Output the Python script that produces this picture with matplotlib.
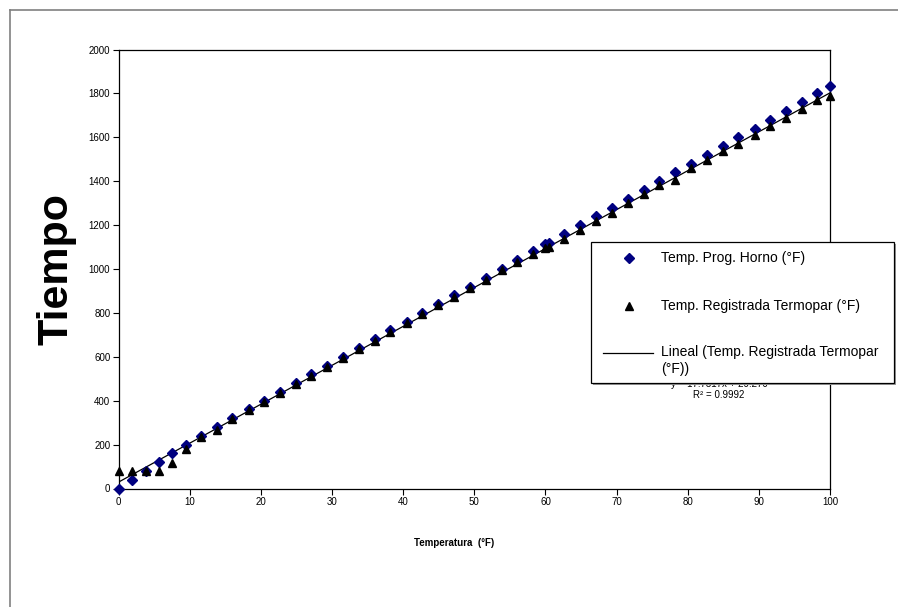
import numpy as np
import matplotlib
matplotlib.use("Agg")
import matplotlib.pyplot as plt
from matplotlib.lines import Line2D
from matplotlib.patches import Rectangle

plt.rcParams["font.family"] = ["Liberation Sans", "DejaVu Sans"]

# Temperature readings (°F) shared by both series
temperatura = [0, 1.93, 3.8, 5.68, 7.55, 9.43, 11.54, 13.8, 16.0, 18.3,
               20.44, 22.7, 24.9, 27.1, 29.3, 31.6, 33.8, 36.0, 38.2, 40.5,
               42.7, 44.9, 47.1, 49.4, 51.6, 53.9, 56.0, 58.3, 60.0, 60.5,
               62.65, 64.9, 67.1, 69.3, 71.6, 73.8, 76.0, 78.25, 80.5, 82.7,
               84.9, 87.1, 89.4, 91.6, 93.8, 96.0, 98.2, 100.0]

# Programmed oven time
tiempo_horno = [0, 40, 80, 120, 160, 200, 240, 280, 320, 360,
                400, 440, 480, 520, 560, 600, 640, 680, 720, 760,
                800, 840, 880, 920, 960, 1000, 1040, 1080, 1112, 1120,
                1160, 1200, 1240, 1280, 1320, 1360, 1400, 1440, 1480, 1520,
                1560, 1600, 1640, 1680, 1720, 1760, 1800, 1832]

# Thermocouple recorded time
tiempo_termopar = [80, 80, 80, 80, 115, 180, 235, 265, 317, 357,
                   395, 434, 474, 512, 554, 594, 634, 672, 714, 754,
                   794, 834, 872, 912, 952, 994, 1034, 1070, 1094, 1099,
                   1135, 1178, 1219, 1254, 1299, 1340, 1383, 1405, 1460, 1497,
                   1536, 1570, 1610, 1650, 1687, 1727, 1770, 1790]

serie_horno = "Temp. Prog. Horno (°F)"
serie_termopar = "Temp. Registrada Termopar (°F)"
serie_lineal = ["Lineal (Temp. Registrada Termopar", "(°F))"]

W, H = 898, 607
fig = plt.figure(figsize=(W / 100, H / 100), dpi=100)


def fx(px):
    return px / W


def fy(py):
    return 1 - py / H


# chart-area frame
fig.add_artist(Line2D([fx(10), fx(10)], [0, fy(10)], color="#808080", lw=1.2))
fig.add_artist(Line2D([fx(10), 1], [fy(10), fy(10)], color="#808080", lw=1.2))

left, right, top, bottom = 118.6, 830.0, 49.5, 488.5
ax = fig.add_axes([fx(left), fy(bottom), (right - left) / W, (bottom - top) / H])

x = np.array(temperatura)
y_h = np.array(tiempo_horno)
y_t = np.array(tiempo_termopar)

diamond = dict(linestyle="none", marker="D", markersize=5.0, color="#000080")
triangle = dict(linestyle="none", marker="^", markersize=5.4, color="black")

ax.plot(x, y_h, zorder=3, clip_on=False, **diamond)
ax.plot(x, y_t, zorder=4, clip_on=False, **triangle)

m, b = np.polyfit(x, y_t, 1)
xx = np.array([0, 100])
ax.plot(xx, m * xx + b, color="black", lw=0.9, zorder=2)

ax.set_xlim(0, 100)
ax.set_ylim(0, 2000)
ax.set_xticks(np.arange(0, 101, 10))
ax.set_yticks(np.arange(0, 2001, 200))
ax.tick_params(direction="out", length=4, width=0.8, labelsize=7, pad=2)
for s in ax.spines.values():
    s.set_linewidth(0.9)

ax.set_xlabel("Temperatura  (°F)", fontsize=7, fontweight="bold")
ax.xaxis.set_label_coords((454 - left) / (right - left), -(543 - bottom) / (bottom - top))
ax.xaxis.label.set_va("center")
ax.set_ylabel("Tiempo", fontsize=31, fontweight="bold", labelpad=9)

# trendline equation, partly behind the legend
ax.text((719 - left) / (right - left), (bottom - 384) / (bottom - top),
        f"y = {m:.4f}x + {b:.3f}", transform=ax.transAxes,
        ha="center", va="center", fontsize=7, zorder=1)
ax.text((719 - left) / (right - left), (bottom - 395) / (bottom - top),
        "R² = 0.9992", transform=ax.transAxes,
        ha="center", va="center", fontsize=7, zorder=1)

# legend box
lx0, ly0, lx1, ly1 = 591, 242, 894, 383
fig.add_artist(Rectangle((fx(lx0 + 2), fy(ly1 + 2)), (lx1 - lx0) / W, (ly1 - ly0) / H,
                         facecolor="#9a9a9a", edgecolor="none", zorder=5))
fig.add_artist(Rectangle((fx(lx0), fy(ly1)), (lx1 - lx0) / W, (ly1 - ly0) / H,
                         facecolor="white", edgecolor="black", lw=0.9, zorder=6))
fig.add_artist(Line2D([fx(629)], [fy(258)], zorder=7, **diamond))
fig.add_artist(Line2D([fx(629)], [fy(306)], zorder=7, **triangle))
fig.add_artist(Line2D([fx(603), fx(653)], [fy(353), fy(353)], color="black", lw=0.9, zorder=7))
fig.text(fx(661), fy(258), serie_horno, fontsize=10, va="center", zorder=8)
fig.text(fx(661), fy(306), serie_termopar, fontsize=10, va="center", zorder=8)
fig.text(fx(661), fy(352), serie_lineal[0], fontsize=10, va="center", zorder=8)
fig.text(fx(661), fy(369), serie_lineal[1], fontsize=10, va="center", zorder=8)

fig.savefig("out.png", dpi=100)
